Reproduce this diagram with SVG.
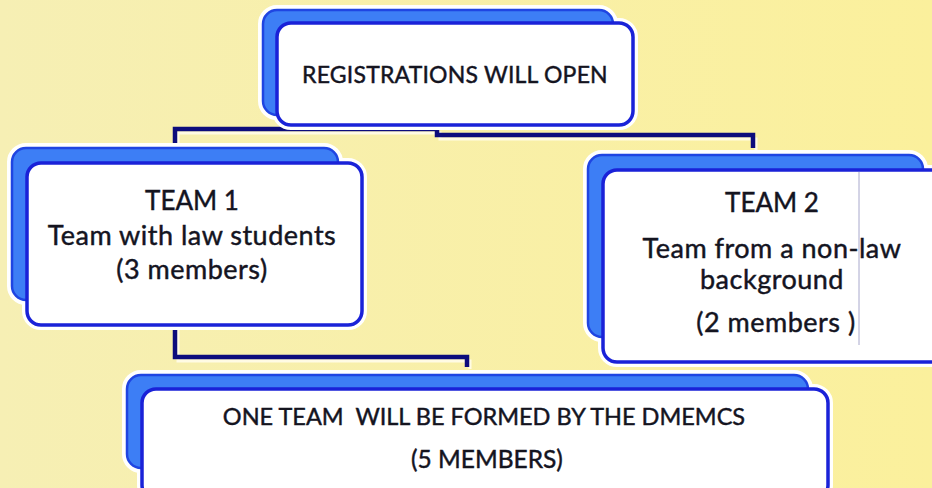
<svg xmlns="http://www.w3.org/2000/svg" width="932" height="488" viewBox="0 0 932 488">
  <defs>
    <linearGradient id="bg" x1="0" y1="0" x2="1" y2="0">
      <stop offset="0" stop-color="#f6efb4"/>
      <stop offset="1" stop-color="#fbf09c"/>
    </linearGradient>
    <style>
      .halo { fill: #ffffff; stroke: #ffffff; stroke-width: 10; }
      .back { fill: #3d7ef5; stroke: #1f45e2; stroke-width: 2.5; }
      .front { fill: #ffffff; stroke: #1a22d8; stroke-width: 3.5; }
      .conn { fill: none; stroke: #0c0c7c; stroke-width: 4.5; stroke-linejoin: miter; }
      .hl { fill: none; stroke: #fffbe4; stroke-width: 3; }
      text { font-family: Lato, "Liberation Sans", sans-serif; fill: #14141f; stroke: #14141f; stroke-width: 0.45; text-anchor: middle; }
      .t { font-size: 23px; }
      .h { font-size: 26px; }
      .l { font-size: 27px; letter-spacing: 0.5px; }
    </style>
  </defs>
  <rect width="932" height="488" fill="url(#bg)"/>

  <g id="connectors">
    <path class="hl" d="M178 146 V133 H440 V139 H756 V150"/>
    <path class="conn" d="M175 144 V129 H437 V135 H753 V148"/>
    <path class="hl" d="M178 325 V361 H470 V369"/>
    <path class="conn" d="M175 324 V357 H467 V367"/>
  </g>

  <g id="node-registrations">
    <rect class="halo" x="263" y="10" width="350" height="105" rx="14"/>
    <rect class="halo" x="277" y="23" width="356" height="102" rx="14"/>
    <rect class="back" x="263" y="10" width="350" height="105" rx="14"/>
    <rect class="front" x="277" y="23" width="356" height="102" rx="14"/>
    <text class="t" x="455" y="83" style="letter-spacing:0.2px">REGISTRATIONS WILL OPEN</text>
  </g>

  <g id="node-team1">
    <rect class="halo" x="12" y="148" width="326" height="152" rx="14"/>
    <rect class="halo" x="27" y="163" width="335" height="162" rx="14"/>
    <rect class="back" x="12" y="148" width="326" height="152" rx="14"/>
    <rect class="front" x="27" y="163" width="335" height="162" rx="14"/>
    <text class="h" x="192" y="210">TEAM 1</text>
    <text class="l" x="192" y="245">Team with law students</text>
    <text class="l" x="192" y="279">(3 members)</text>
  </g>

  <g id="node-team2">
    <rect class="halo" x="588" y="155" width="335" height="182" rx="14"/>
    <rect class="halo" x="603" y="170" width="345" height="192" rx="14"/>
    <rect class="back" x="588" y="155" width="335" height="182" rx="14"/>
    <rect class="front" x="603" y="170" width="345" height="192" rx="14"/>
    <line x1="859" y1="172" x2="859" y2="345" stroke="#a8a8cc" stroke-width="1"/>
    <text class="h" x="772" y="212">TEAM 2</text>
    <text class="l" x="772" y="258">Team from a non-law</text>
    <text class="l" x="772" y="289">background</text>
    <text class="l" x="776" y="332">(2 members )</text>
  </g>

  <g id="node-dmemcs">
    <rect class="halo" x="127" y="375" width="681" height="93" rx="14"/>
    <rect class="halo" x="142" y="389" width="686" height="110" rx="14"/>
    <rect class="back" x="127" y="375" width="681" height="93" rx="14"/>
    <rect class="front" x="142" y="389" width="686" height="110" rx="14"/>
    <text class="t" x="484" y="425" style="font-size:23.5px" xml:space="preserve">ONE TEAM  WILL BE FORMED BY THE DMEMCS</text>
    <text class="t" x="487" y="468" style="font-size:24.5px">(5 MEMBERS)</text>
  </g>
</svg>
